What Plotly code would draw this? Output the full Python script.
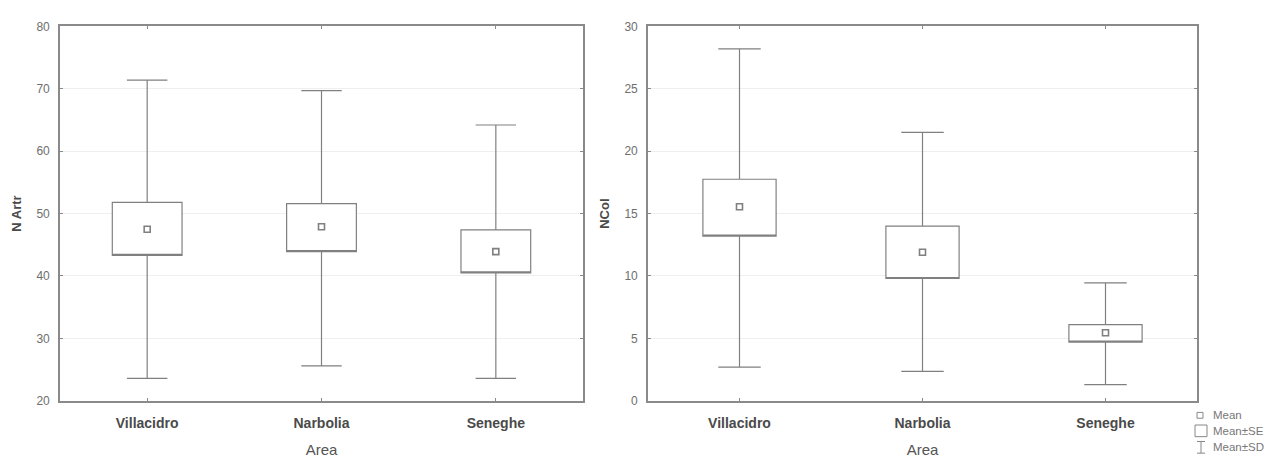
import plotly.graph_objects as go

areas = ["Villacidro", "Narbolia", "Seneghe"]

# N Artr: mean, mean-SE, mean+SE, mean-SD, mean+SD
artr_mean = [47.5, 47.9, 43.9]
artr_se_lo = [43.3, 43.9, 40.5]
artr_se_hi = [51.8, 51.6, 47.4]
artr_sd_lo = [23.6, 25.6, 23.6]
artr_sd_hi = [71.4, 69.7, 64.2]

# NCol
col_mean = [15.55, 11.9, 5.45]
col_se_lo = [13.2, 9.8, 4.7]
col_se_hi = [17.75, 14.0, 6.1]
col_sd_lo = [2.7, 2.35, 1.3]
col_sd_hi = [28.2, 21.5, 9.45]

line_col = "#808080"
frame_col = "#8a8a8a"
tick_col = "#6e6e6e"
font_family = "Liberation Sans, Arial, sans-serif"

fig = go.Figure()

def add_panel(xa, ya, mean, se_lo, se_hi, sd_lo, sd_hi):
    fig.add_trace(go.Box(
        x=areas, q1=se_lo, median=se_lo, q3=se_hi,
        lowerfence=sd_lo, upperfence=sd_hi,
        width=0.4, whiskerwidth=0.58,
        fillcolor="white", line=dict(color=line_col, width=1.2),
        xaxis=xa, yaxis=ya, showlegend=False, hoverinfo="skip",
        boxpoints=False,
    ))
    fig.add_trace(go.Scatter(
        x=areas, y=mean, mode="markers",
        marker=dict(symbol="square-open", size=6, color=line_col, line=dict(width=1.6, color=line_col)),
        xaxis=xa, yaxis=ya, showlegend=False, hoverinfo="skip",
    ))

add_panel("x", "y", artr_mean, artr_se_lo, artr_se_hi, artr_sd_lo, artr_sd_hi)
add_panel("x2", "y2", col_mean, col_se_lo, col_se_hi, col_sd_lo, col_sd_hi)

xaxis_common = dict(
    type="category", range=[-0.5, 2.5], showline=True, linecolor=frame_col, linewidth=1.6,
    mirror="ticks", ticks="inside", ticklen=3, tickcolor=frame_col, showgrid=False,
    tickfont=dict(family=font_family, size=14, color="#4a4a4a", weight="bold"),
    ticklabelstandoff=9, zeroline=False, fixedrange=True,
)
yaxis_common = dict(
    showline=True, linecolor=frame_col, linewidth=1.6, mirror="ticks", ticks="inside",
    ticklen=3, tickcolor=frame_col, showgrid=True, gridcolor="#efefef", gridwidth=1,
    tickfont=dict(family=font_family, size=12, color=tick_col), zeroline=False,
    ticklabelstandoff=6,
)

fig.update_layout(
    width=1287, height=465, margin=dict(l=0, r=0, t=0, b=0),
    paper_bgcolor="white", plot_bgcolor="white",
    font=dict(family=font_family, color=tick_col),
    xaxis=dict(xaxis_common, domain=[60/1287, 583/1287],
               title=dict(text="Area", font=dict(size=15, color="#555555"), standoff=14)),
    yaxis=dict(yaxis_common, domain=[1-406/465, 1-20/465], range=[20, 80], dtick=10,
               title=dict(text="<b>N Artr</b>", font=dict(size=13, color="#4a4a4a"), standoff=12)),
    xaxis2=dict(xaxis_common, anchor="y2", domain=[648/1287, 1197/1287],
                title=dict(text="Area", font=dict(size=15, color="#555555"), standoff=14)),
    yaxis2=dict(yaxis_common, anchor="x2", domain=[1-406/465, 1-20/465], range=[0, 30], dtick=5,
                title=dict(text="<b>NCol</b>", font=dict(size=13, color="#4a4a4a"), standoff=12)),
)

# Legend (bottom right)
legend_items = ["Mean", "Mean±SE", "Mean±SD"]
leg_y = [421, 437, 454]
for txt, yy in zip(legend_items, leg_y):
    fig.add_annotation(xref="paper", yref="paper", x=1211/1287, y=1-yy/465, text=txt,
                       showarrow=False, xanchor="left", yanchor="middle",
                       font=dict(family=font_family, size=11.5, color="#777777"))
# symbols
fig.add_shape(type="rect", xref="paper", yref="paper",
              x0=1197/1287, x1=1203/1287, y0=1-418/465, y1=1-424/465,
              line=dict(color="#888888", width=1))
fig.add_shape(type="rect", xref="paper", yref="paper",
              x0=1195/1287, x1=1207/1287, y0=1-431/465, y1=1-443/465,
              line=dict(color="#888888", width=1))
fig.add_shape(type="line", xref="paper", yref="paper",
              x0=1201/1287, x1=1201/1287, y0=1-448/465, y1=1-460/465,
              line=dict(color="#888888", width=1))
fig.add_shape(type="line", xref="paper", yref="paper",
              x0=1197/1287, x1=1205/1287, y0=1-448/465, y1=1-448/465,
              line=dict(color="#888888", width=1))
fig.add_shape(type="line", xref="paper", yref="paper",
              x0=1197/1287, x1=1205/1287, y0=1-460/465, y1=1-460/465,
              line=dict(color="#888888", width=1))

fig.write_html("out.html")
